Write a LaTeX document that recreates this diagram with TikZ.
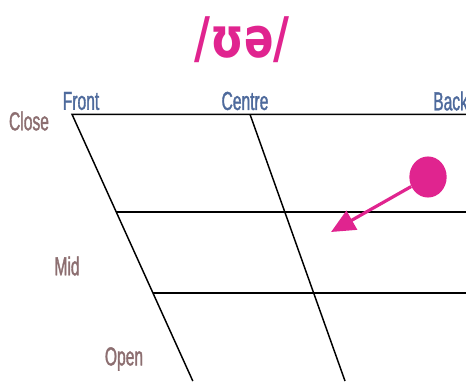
\documentclass[tikz,border=0pt]{standalone}
\usepackage{fontspec}
\setmainfont{Liberation Sans}[FakeStretch=0.6, FakeBold=1.3]
\newfontfamily\ipafont{DejaVu Sans}[FakeStretch=0.78]
\usetikzlibrary{arrows.meta}
\definecolor{vowelpink}{HTML}{E0248F}
\definecolor{axisblue}{HTML}{4E6A9C}
\definecolor{axisbrown}{HTML}{8C6E70}
\begin{document}
\begin{tikzpicture}[x=0.75pt, y=-0.75pt,
        colname/.style={font=\fontsize{19.5}{20}\selectfont, text=axisblue, inner sep=0pt},
        rowname/.style={font=\fontsize{19.5}{20}\selectfont, text=axisbrown, inner sep=0pt},
        grid/.style={line width=1.1pt, black}]
    \useasboundingbox (0,0) rectangle (466,381);
    % title
    \node[font=\ipafont\bfseries\fontsize{42}{46}\selectfont, text=vowelpink] (title) at (242,40) {/ʊə/};
    % corners of the chart
    \coordinate (fronttop) at (72,114.3);
    \coordinate (frontbot) at (192.8,381);
    \coordinate (centretop) at (250,114.3);
    \coordinate (centrebot) at (345,381);
    \coordinate (backtop) at (470,114.3);
    \coordinate (midleft) at (116.3,212);
    \coordinate (midright) at (470,212);
    \coordinate (lowleft) at (153,293);
    \coordinate (lowright) at (470,293);
    \draw[grid] (backtop) -- (fronttop) -- (frontbot);
    \draw[grid] (centretop) -- (centrebot);
    \draw[grid] (midleft) -- (midright);
    \draw[grid] (lowleft) -- (lowright);
    % labels
    \node[colname] (front) at (81,101) {Front};
    \node[colname] (centre) at (245,101) {Centre};
    \node[colname, anchor=west] (back) at (433,101) {Back};
    \node[rowname] (close) at (29,121) {Close};
    \node[rowname] (mid) at (67,266) {Mid};
    \node[rowname] (open) at (124,359) {Open};
    % glide
    \node[circle, fill=vowelpink, minimum width=28pt, inner sep=0pt, yscale=1.1] (start) at (428,177) {};
    \coordinate (finish) at (331,232);
    \draw[vowelpink, line width=2.4pt, -{Triangle[length=18pt, width=16pt]}] (start) -- (finish);
\end{tikzpicture}
\end{document}
